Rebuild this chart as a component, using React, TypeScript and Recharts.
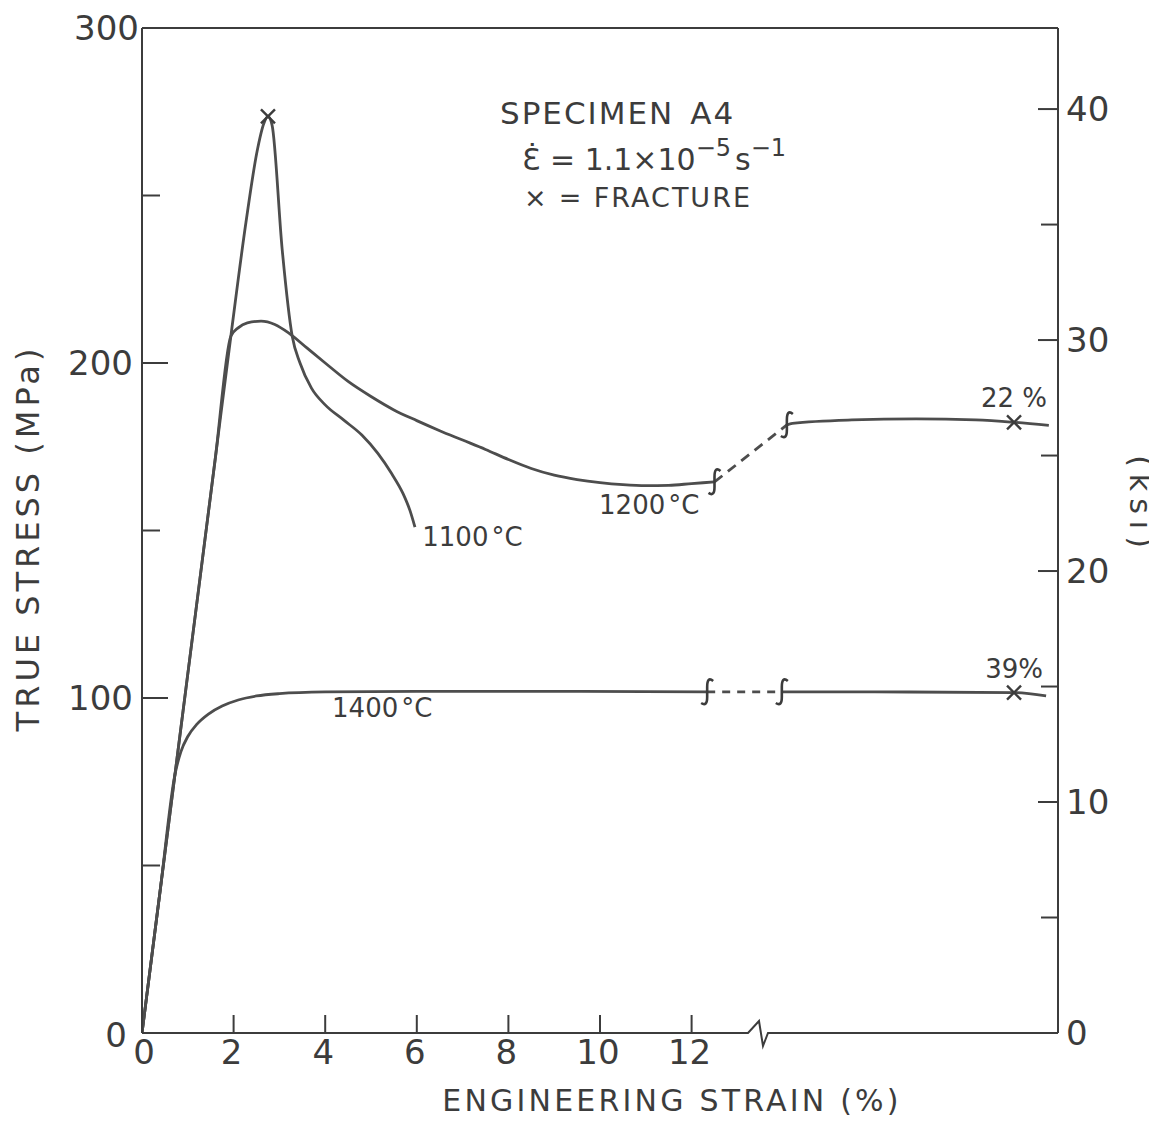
import React from "react";
import { ComposedChart, Line, Scatter, XAxis, YAxis } from "recharts";

const INK = "#3c3c3c";
const CURVE = "#4d4d4d";
const FONT = "'DejaVu Sans', sans-serif";

// axis ticks (strain axis is broken just past 13.5 %, the part beyond is schematic)
const strainTicks = [0, 2, 4, 6, 8, 10, 12];
const topTicks = [2, 4, 6, 8, 10, 12];
const stressTicks = [0, 50, 100, 150, 200, 250, 300];
const ksiTicks = [0, 5, 10, 15, 20, 25, 30, 35, 40];
const MPA_PER_KSI = 6.895;

// true stress (MPa) against strain position (%)
const curve1100 = [
  { x: 0, y: 0 },
  { x: 0.4, y: 42.9 },
  { x: 0.76, y: 81.5 },
  { x: 1.2, y: 128.6 },
  { x: 1.6, y: 171.5 },
  { x: 1.94, y: 208 },
  { x: 2.27, y: 242 },
  { x: 2.51, y: 263 },
  { x: 2.66, y: 271.5 },
  { x: 2.75, y: 273.6 },
  { x: 2.84, y: 271 },
  { x: 3.06, y: 234 },
  { x: 3.28, y: 208 },
  { x: 3.45, y: 200 },
  { x: 3.7, y: 192.5 },
  { x: 4.0, y: 187.5 },
  { x: 4.4, y: 183 },
  { x: 4.8, y: 178.5 },
  { x: 5.15, y: 173 },
  { x: 5.45, y: 167 },
  { x: 5.7, y: 161 },
  { x: 5.85, y: 156 },
  { x: 5.96, y: 151 },
];

const curve1200 = [
  { x: 0, y: 0 },
  { x: 0.4, y: 42.9 },
  { x: 0.76, y: 81.5 },
  { x: 1.2, y: 128.6 },
  { x: 1.6, y: 171.5 },
  { x: 1.94, y: 208 },
  { x: 2.1, y: 210.5 },
  { x: 2.3, y: 212 },
  { x: 2.6, y: 212.5 },
  { x: 2.9, y: 211.5 },
  { x: 3.2, y: 209 },
  { x: 3.6, y: 204.5 },
  { x: 4.0, y: 200 },
  { x: 4.5, y: 194.5 },
  { x: 5.0, y: 190 },
  { x: 5.5, y: 186 },
  { x: 6.0, y: 182.8 },
  { x: 6.5, y: 179.8 },
  { x: 7.0, y: 177 },
  { x: 7.5, y: 174.2 },
  { x: 8.0, y: 171.2 },
  { x: 8.5, y: 168.5 },
  { x: 9.0, y: 166.5 },
  { x: 9.5, y: 165.2 },
  { x: 10.0, y: 164.3 },
  { x: 10.5, y: 163.7 },
  { x: 11.0, y: 163.4 },
  { x: 11.5, y: 163.5 },
  { x: 12.0, y: 164 },
  { x: 12.5, y: 164.5 },
];
const gap1200 = [
  { x: 12.5, y: 164.5 },
  { x: 14.08, y: 181.5 },
];
const tail1200 = [
  { x: 14.08, y: 181.5 },
  { x: 14.2, y: 182 },
  { x: 15.5, y: 183 },
  { x: 16.9, y: 183.3 },
  { x: 18.2, y: 183 },
  { x: 19.04, y: 182.3 },
  { x: 19.8, y: 181.4 },
];

const curve1400 = [
  { x: 0, y: 0 },
  { x: 0.4, y: 42.9 },
  { x: 0.72, y: 77.2 },
  { x: 0.85, y: 84 },
  { x: 1.0, y: 88.5 },
  { x: 1.2, y: 92.2 },
  { x: 1.45, y: 95.2 },
  { x: 1.75, y: 97.6 },
  { x: 2.1, y: 99.4 },
  { x: 2.5, y: 100.6 },
  { x: 3.0, y: 101.3 },
  { x: 4.0, y: 101.8 },
  { x: 6.0, y: 102 },
  { x: 9.0, y: 102 },
  { x: 12.34, y: 101.8 },
];
const gap1400 = [
  { x: 12.34, y: 101.8 },
  { x: 13.97, y: 101.8 },
];
const tail1400 = [
  { x: 13.97, y: 101.8 },
  { x: 16.0, y: 101.8 },
  { x: 19.04, y: 101.6 },
  { x: 19.74, y: 100.6 },
];

const fractures = [
  { x: 2.75, y: 273.6 },
  { x: 19.04, y: 182.3 },
  { x: 19.04, y: 101.6 },
];
const breakMarks = [
  { x: 12.5, y: 164.5 },
  { x: 14.08, y: 181.5 },
  { x: 12.34, y: 101.8 },
  { x: 13.97, y: 101.8 },
];
const curveLabels = [
  { x: 6.12, y: 148, temp: "1100" },
  { x: 9.98, y: 157.5, temp: "1200" },
  { x: 4.15, y: 97, temp: "1400" },
];
const fractureLabels = [
  { x: 19.04, y: 182.3, text: "22 %" },
  { x: 19.04, y: 101.6, text: "39%" },
];

const LeftTick = (props: any) => {
  const { x, y, payload } = props;
  const v = payload.value;
  const major = v % 100 === 0;
  let tx = x - 9;
  if (v === 300) tx = x - 3;
  if (v === 0) tx = x - 15;
  return (
    <g>
      {v > 0 && v < 300 && (
        <line x1={x} x2={x + (major ? 26 : 18)} y1={y} y2={y} stroke={INK} strokeWidth={2} />
      )}
      {major && (
        <text x={tx} y={v === 0 ? y + 2 : y} textAnchor="end" dominantBaseline="central"
          fontFamily={FONT} fontSize={34} fill={INK}>
          {v}
        </text>
      )}
    </g>
  );
};

const RightTick = (props: any) => {
  const { x, y, payload } = props;
  const v = payload.value;
  const major = v % 10 === 0;
  return (
    <g>
      {v > 0 && (
        <line x1={x - (major ? 20 : 17)} x2={x} y1={y} y2={y} stroke={INK} strokeWidth={2} />
      )}
      {major && (
        <text x={x + 8} y={y} textAnchor="start" dominantBaseline="central"
          fontFamily={FONT} fontSize={34} fill={INK}>
          {v}
        </text>
      )}
    </g>
  );
};

const BottomTick = (props: any) => {
  const { x, y, payload } = props;
  const v = payload.value;
  return (
    <g>
      {v > 0 && <line x1={x} x2={x} y1={y} y2={y - 18} stroke={INK} strokeWidth={2} />}
      <text x={v === 0 ? x + 2 : x - 2} y={y + 5} textAnchor="middle" dominantBaseline="hanging"
        fontFamily={FONT} fontSize={34} fill={INK}>
        {v}
      </text>
    </g>
  );
};

const TopTick = (props: any) => {
  const { x, y } = props;
  return <line x1={x} x2={x} y1={y} y2={y + 22} stroke={INK} strokeWidth={2} />;
};

const FractureMark = (props: any) => {
  const { cx, cy } = props;
  const d = 7;
  return (
    <g stroke={INK} strokeWidth={2.4}>
      <line x1={cx - d} y1={cy - d} x2={cx + d} y2={cy + d} />
      <line x1={cx - d} y1={cy + d} x2={cx + d} y2={cy - d} />
    </g>
  );
};

const BreakMark = (props: any) => {
  const { cx, cy } = props;
  return (
    <path
      d={`M ${cx + 6} ${cy - 11} Q ${cx} ${cy - 16} ${cx} ${cy - 5} L ${cx} ${cy + 5} Q ${cx} ${cy + 15} ${cx - 6} ${cy + 11}`}
      fill="none" stroke={INK} strokeWidth={2.6}
    />
  );
};

const TempLabel = (props: any) => {
  const { cx, cy, payload } = props;
  return (
    <text x={cx} y={cy} dominantBaseline="central" fontFamily={FONT} fontSize={26} fill={INK}>
      {payload.temp}
      <tspan dx={3}>°C</tspan>
    </text>
  );
};

const PercentLabel = (props: any) => {
  const { cx, cy, payload } = props;
  return (
    <text x={cx} y={cy - 24} textAnchor="middle" dominantBaseline="central"
      fontFamily={FONT} fontSize={26} fill={INK}>
      {payload.text}
    </text>
  );
};

const lineProps = {
  type: "monotone" as const,
  dataKey: "y",
  stroke: CURVE,
  strokeWidth: 2.8,
  dot: false,
  activeDot: false,
  isAnimationActive: false,
};

const App = () => {
  return (
    <div style={{ position: "relative", width: 1157, height: 1130, margin: -8, background: "#fff" }}>
      <ComposedChart width={1157} height={1130} margin={{ top: 0, right: 0, bottom: 0, left: 0 }}>
        <XAxis
          dataKey="x"
          type="number"
          domain={[0, 20]}
          allowDataOverflow
          ticks={strainTicks}
          height={97}
          axisLine={false}
          tickLine={false}
          tickSize={0}
          tickMargin={0}
          tick={<BottomTick />}
          interval={0}
        />
        <XAxis
          xAxisId="top"
          orientation="top"
          type="number"
          domain={[0, 20]}
          allowDataOverflow
          ticks={topTicks}
          height={28}
          axisLine={{ stroke: INK, strokeWidth: 2 }}
          tickLine={false}
          tickSize={0}
          tickMargin={0}
          tick={<TopTick />}
          interval={0}
        />
        <YAxis
          dataKey="y"
          type="number"
          domain={[0, 300]}
          allowDataOverflow
          ticks={stressTicks}
          width={142}
          axisLine={{ stroke: INK, strokeWidth: 2 }}
          tickLine={false}
          tickSize={0}
          tickMargin={0}
          tick={<LeftTick />}
          interval={0}
        />
        <YAxis
          yAxisId="ksi"
          orientation="right"
          type="number"
          domain={[0, 300 / MPA_PER_KSI]}
          allowDataOverflow
          ticks={ksiTicks}
          width={99}
          axisLine={{ stroke: INK, strokeWidth: 2 }}
          tickLine={false}
          tickSize={0}
          tickMargin={0}
          tick={<RightTick />}
          interval={0}
        />

        <Line {...lineProps} data={curve1100} />
        <Line {...lineProps} data={curve1200} />
        <Line {...lineProps} data={tail1200} />
        <Line {...lineProps} data={curve1400} />
        <Line {...lineProps} data={tail1400} />
        <Line {...lineProps} type="linear" data={gap1200} strokeDasharray="10 7" />
        <Line {...lineProps} type="linear" data={gap1400} strokeDasharray="8 7" />

        <Scatter data={breakMarks} shape={<BreakMark />} isAnimationActive={false} />
        <Scatter data={fractures} shape={<FractureMark />} isAnimationActive={false} />
        <Scatter data={curveLabels} shape={<TempLabel />} isAnimationActive={false} />
        <Scatter data={fractureLabels} shape={<PercentLabel />} isAnimationActive={false} />
      </ComposedChart>

      <svg
        width={1157}
        height={1130}
        style={{ position: "absolute", left: 0, top: 0, pointerEvents: "none" }}
        fontFamily={FONT}
        fill={INK}
      >
        {/* bottom axis with the break */}
        <path d="M 142 1033 H 748 L 759 1021 L 763 1046 L 768 1033 H 1058" fill="none" stroke={INK} strokeWidth={2} />

        <text x={672} y={1100} textAnchor="middle" dominantBaseline="central" fontSize={30} letterSpacing={3.2}>
          ENGINEERING STRAIN (%)
        </text>
        <text transform="translate(28 538) rotate(-90)" textAnchor="middle" dominantBaseline="central"
          fontSize={32} letterSpacing={4}>
          TRUE STRESS (MPa)
        </text>
        <text transform="translate(1140 505) rotate(90)" textAnchor="middle" dominantBaseline="central"
          fontSize={30} letterSpacing={7}>
          (ksi)
        </text>

        <text x={500} y={113} dominantBaseline="central" fontSize={31} letterSpacing={2}>
          SPECIMEN<tspan dx={16}>A4</tspan>
        </text>
        <text x={522} y={170} fontSize={30}>
          Ɛ̇ = 1.1×10<tspan dy={-14} fontSize={24}>−5</tspan>
          <tspan dy={14} dx={4}>s</tspan>
          <tspan dy={-14} fontSize={24}>−1</tspan>
        </text>
        <text x={524} y={197} dominantBaseline="central" fontSize={27} letterSpacing={2}>
          ×<tspan dx={10}>= FRACTURE</tspan>
        </text>
      </svg>
    </div>
  );
};

export default App;
